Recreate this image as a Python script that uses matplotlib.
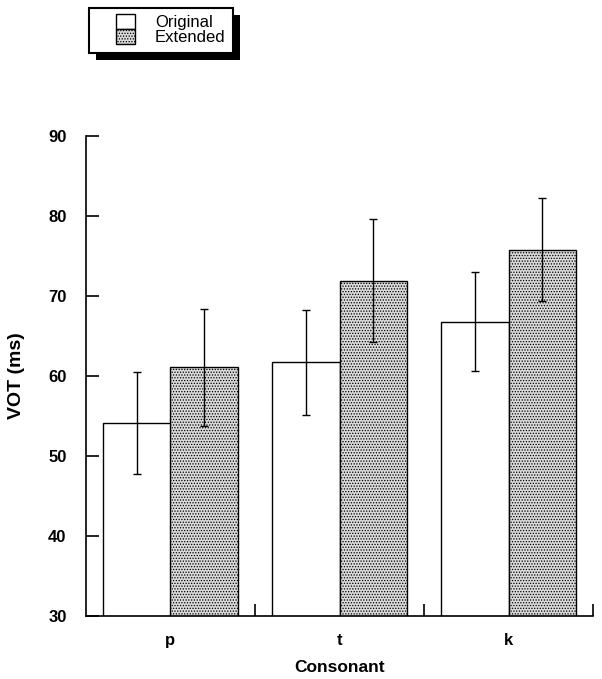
import matplotlib
matplotlib.use("Agg")
import matplotlib.pyplot as plt
import numpy as np
from matplotlib.patches import Rectangle, Patch
from matplotlib.legend_handler import HandlerPatch

plt.rcParams['font.family'] = ['Liberation Sans', 'DejaVu Sans']
plt.rcParams['hatch.linewidth'] = 0.6

consonants = ['p', 't', 'k']
original = [54.1, 61.7, 66.8]
original_err = [6.4, 6.6, 6.2]
extended = [61.1, 71.9, 75.8]
extended_err = [7.3, 7.7, 6.4]
yticks = [30, 40, 50, 60, 70, 80, 90]

fig = plt.figure(figsize=(6.02, 6.79), dpi=100)
ax = fig.add_axes([86/602, 1-616/679, (593-86)/602, (616-136)/679])

x = np.arange(1, len(consonants)+1)
w = 0.4
ax.bar(x - w/2, original, width=w, color='white', edgecolor='black', linewidth=1.0, zorder=2)
ax.bar(x + w/2, extended, width=w, color='#d9d9d9', edgecolor='black', hatch='......', linewidth=1.0, zorder=2)
ax.errorbar(x - w/2, original, yerr=original_err, fmt='none', ecolor='black', elinewidth=1.0, capsize=3, capthick=1.0, zorder=3)
ax.errorbar(x + w/2, extended, yerr=extended_err, fmt='none', ecolor='black', elinewidth=1.0, capsize=3, capthick=1.0, zorder=3)

ax.set_xlim(0.5, 3.5)
ax.set_ylim(30, 90)
ax.spines['top'].set_visible(False)
ax.spines['right'].set_visible(False)
for s in ['left', 'bottom']:
    ax.spines[s].set_linewidth(1.2)
ax.set_yticks(yticks)
ax.tick_params(axis='y', direction='in', length=9, width=1.2, labelsize=12, pad=14)
for lab in ax.get_yticklabels():
    lab.set_fontweight('bold')
ax.set_xticks(x)
ax.set_xticklabels(consonants, fontsize=12, fontweight='bold')
ax.tick_params(axis='x', length=0, pad=12)
ax.set_xticks([1.5, 2.5, 3.5], minor=True)
ax.tick_params(axis='x', which='minor', direction='in', length=9, width=1.2)
ax.set_xlabel('Consonant', fontsize=12.5, fontweight='bold', labelpad=9)
ax.set_ylabel('VOT (ms)', fontsize=14, fontweight='bold', labelpad=17)

# legend with square handles placed at right side of the handle box
def square_patch(legend, orig_handle, xdescent, ydescent, width, height, fontsize):
    sw = 13.5  # points
    sh = 11.0
    return Rectangle((width - sw - xdescent, (height - sh) / 2 - ydescent), sw, sh)

handles = [Patch(facecolor='white', edgecolor='black', linewidth=1.0),
           Patch(facecolor='#d9d9d9', edgecolor='black', hatch='......', linewidth=1.0)]
leg = fig.legend(handles, ['Original', 'Extended'], loc='upper left',
                 bbox_to_anchor=(89/602, 1-8/679), frameon=True, fancybox=False,
                 edgecolor='black', framealpha=1, fontsize=12, labelspacing=0.0,
                 handlelength=2.3, handleheight=0.66, handletextpad=1.2,
                 borderpad=0.45, borderaxespad=0,
                 handler_map={Patch: HandlerPatch(patch_func=square_patch)})
leg.get_frame().set_linewidth(1.5)
fig.canvas.draw()
bb = leg.get_window_extent()
shadow = Rectangle((bb.x0 + 7, bb.y0 - 7), bb.width, bb.height, transform=None,
                   facecolor='black', edgecolor='none', zorder=0)
fig.patches.append(shadow)
leg.set_zorder(5)

fig.savefig('out.png', dpi=100)
